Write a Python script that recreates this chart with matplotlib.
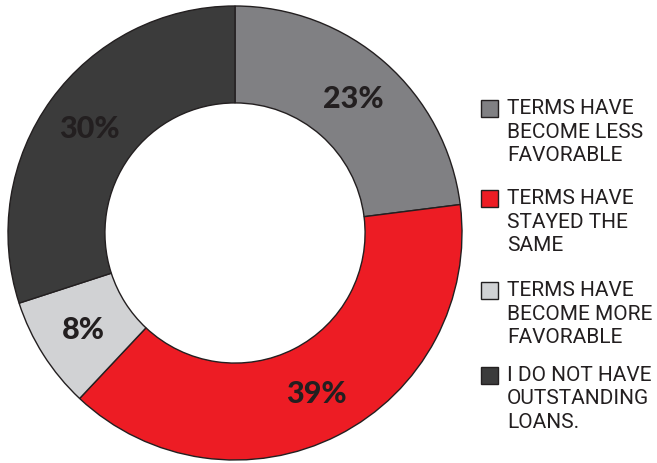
import matplotlib.pyplot as plt
from matplotlib.patches import Rectangle

# survey shares, clockwise from 12 o'clock
labels = ["TERMS HAVE\nBECOME LESS\nFAVORABLE",
          "TERMS HAVE\nSTAYED THE\nSAME",
          "TERMS HAVE\nBECOME MORE\nFAVORABLE",
          "I DO NOT HAVE\nOUTSTANDING\nLOANS."]
shares = [23, 39, 8, 30]
colors = ["#808083", "#ED1C24", "#D1D2D4", "#3B3B3B"]
ink = "#231F20"

W, H = 657, 464
fig = plt.figure(figsize=(W / 100, H / 100), dpi=100)
ax = fig.add_axes([0, 0, 1, 1])

R = 227
wedges, _, pcts = ax.pie(
    shares, colors=colors, startangle=90, counterclock=False,
    center=(235, H - 234), radius=R, frame=True,
    autopct="%d%%", pctdistance=0.79,
    wedgeprops=dict(width=R * 0.427, edgecolor=ink, linewidth=1.0),
)
ax.set_xlim(0, W)
ax.set_ylim(0, H)
ax.set_aspect("equal")
ax.axis("off")
for t in pcts:
    t.set_fontsize(22)
    t.set_fontweight("black")
    t.set_color(ink)
    t.set_family(["Lato", "DejaVu Sans"])

# legend on the right
box_y = [101, 191, 283, 368]
for y, c, lab in zip(box_y, colors, labels):
    ax.add_patch(Rectangle((481, H - y - 17), 17, 17, facecolor=c,
                           edgecolor=ink, linewidth=1.0))
    ax.text(507, H - y + 2, lab, va="top", ha="left", fontsize=15,
            color=ink, linespacing=1.3,
            family=["Roboto", "DejaVu Sans"])

fig.savefig("out.png", dpi=100)
